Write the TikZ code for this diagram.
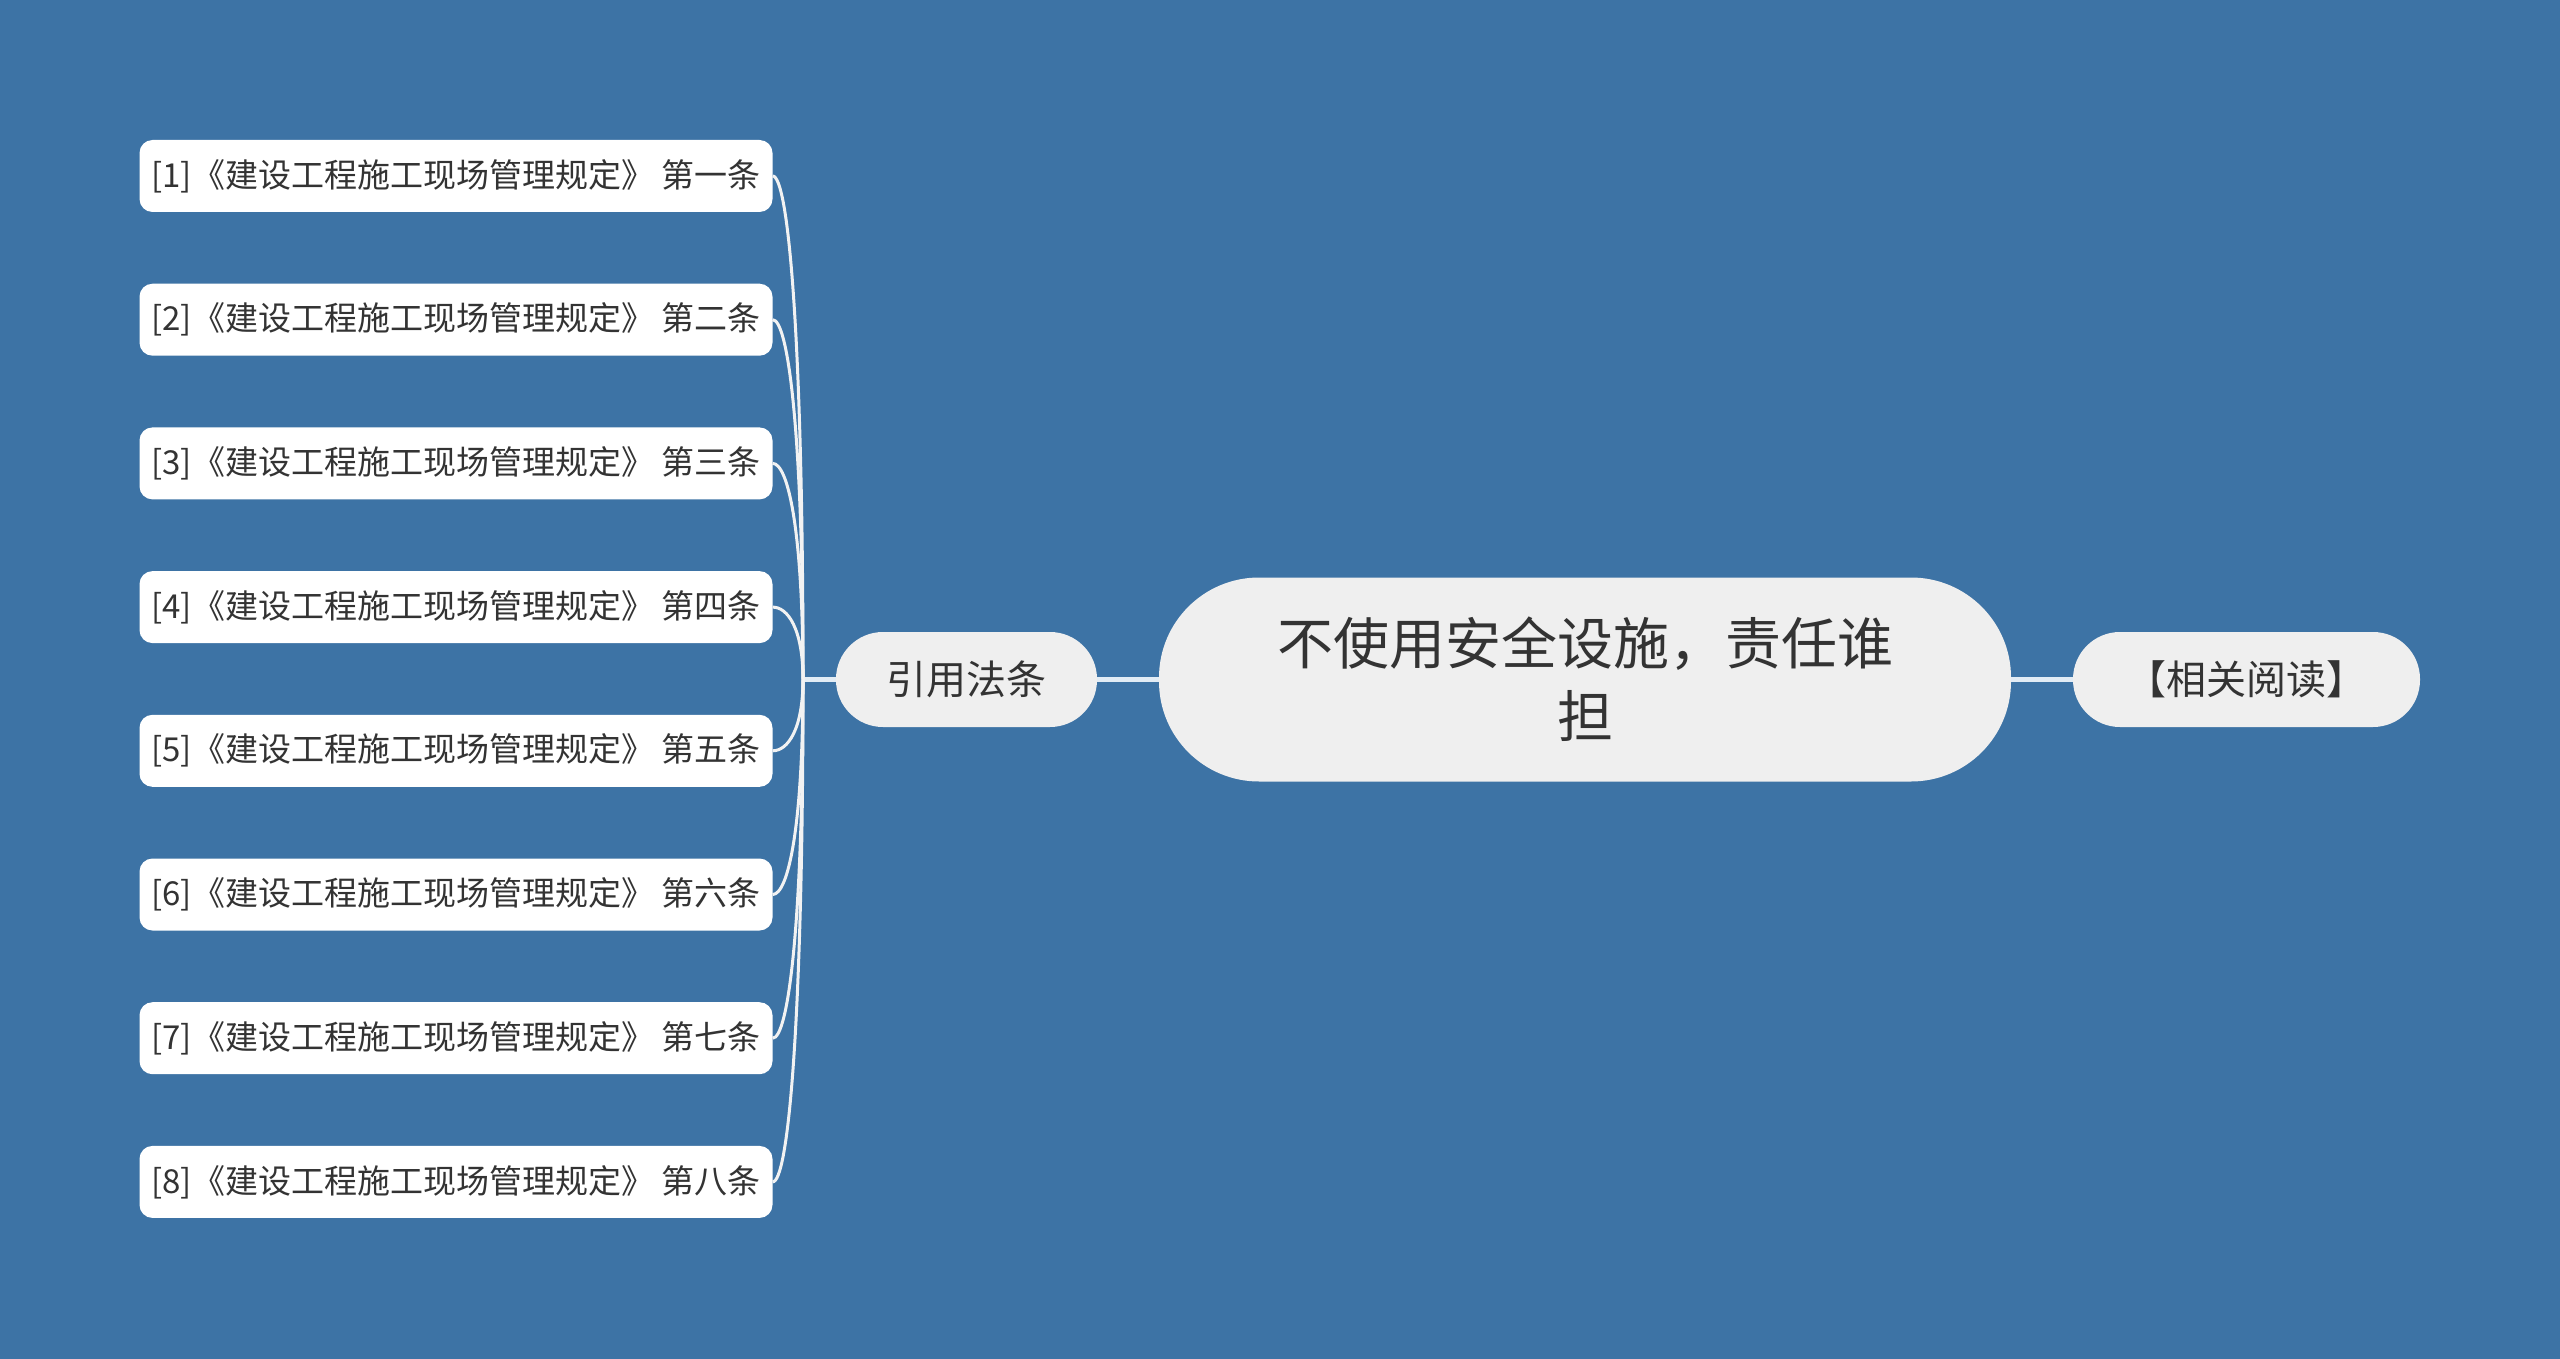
\documentclass[tikz,border=0pt]{standalone}
\usepackage{fontspec}
\setmainfont{Noto Sans CJK SC}
\usetikzlibrary{calc}
\definecolor{bgblue}{HTML}{3D73A5}
\definecolor{nodegray}{HTML}{EFEFEF}
\definecolor{txt}{HTML}{333333}
\definecolor{linkc}{HTML}{E2ECF5}
\definecolor{leafc}{HTML}{F2F2F2}
\tikzset{
  leafbox/.style={fill=white, rounded corners=13pt, minimum width=633pt, minimum height=72pt,
    inner sep=0pt, text=txt, font=\fontsize{33}{40}\selectfont},
  midbox/.style={fill=nodegray, rounded corners=47pt, minimum height=95pt,
    inner sep=0pt, text=txt, font=\fontsize{40}{48}\selectfont},
  rootbox/.style={fill=nodegray, rounded corners=100pt, minimum width=852pt, minimum height=204pt,
    inner sep=0pt, text=txt, align=center, font=\fontsize{56}{73}\selectfont},
  mainlink/.style={draw=linkc, line width=4.5pt},
  leaflink/.style={draw=leafc, line width=3pt}
}
\begin{document}
\begin{tikzpicture}[x=1pt,y=-1pt]
\fill[bgblue] (0,0) rectangle (2560,1359);
\useasboundingbox (0,0) rectangle (2560,1359);

\node[rootbox] (root) at (1585,679.5) {不使用安全设施，责任谁\\担};
\node[midbox, minimum width=261pt] (cite) at (966.5,679.5) {引用法条};
\node[midbox, minimum width=347pt] (rel) at (2246.5,679.5) {【相关阅读】};

\coordinate (trunk) at (803,679.5);

\node[leafbox] (l1) at (456,176) {[1]《建设工程施工现场管理规定》 第一条};
\node[leafbox] (l2) at (456,319.7) {[2]《建设工程施工现场管理规定》 第二条};
\node[leafbox] (l3) at (456,463.4) {[3]《建设工程施工现场管理规定》 第三条};
\node[leafbox] (l4) at (456,607.1) {[4]《建设工程施工现场管理规定》 第四条};
\node[leafbox] (l5) at (456,750.8) {[5]《建设工程施工现场管理规定》 第五条};
\node[leafbox] (l6) at (456,894.5) {[6]《建设工程施工现场管理规定》 第六条};
\node[leafbox] (l7) at (456,1038.2) {[7]《建设工程施工现场管理规定》 第七条};
\node[leafbox] (l8) at (456,1181.9) {[8]《建设工程施工现场管理规定》 第八条};

\draw[mainlink] (root.west) -- (cite.east);
\draw[mainlink] (root.east) -- (rel.west);
\draw[mainlink] (cite.west) -- (trunk);

\foreach \i in {1,...,8}{
  \draw[leaflink] (l\i.east) .. controls +(15,0) and ($(trunk)!0.7!(trunk |- l\i.east)$) .. (trunk);
}
\end{tikzpicture}
\end{document}
